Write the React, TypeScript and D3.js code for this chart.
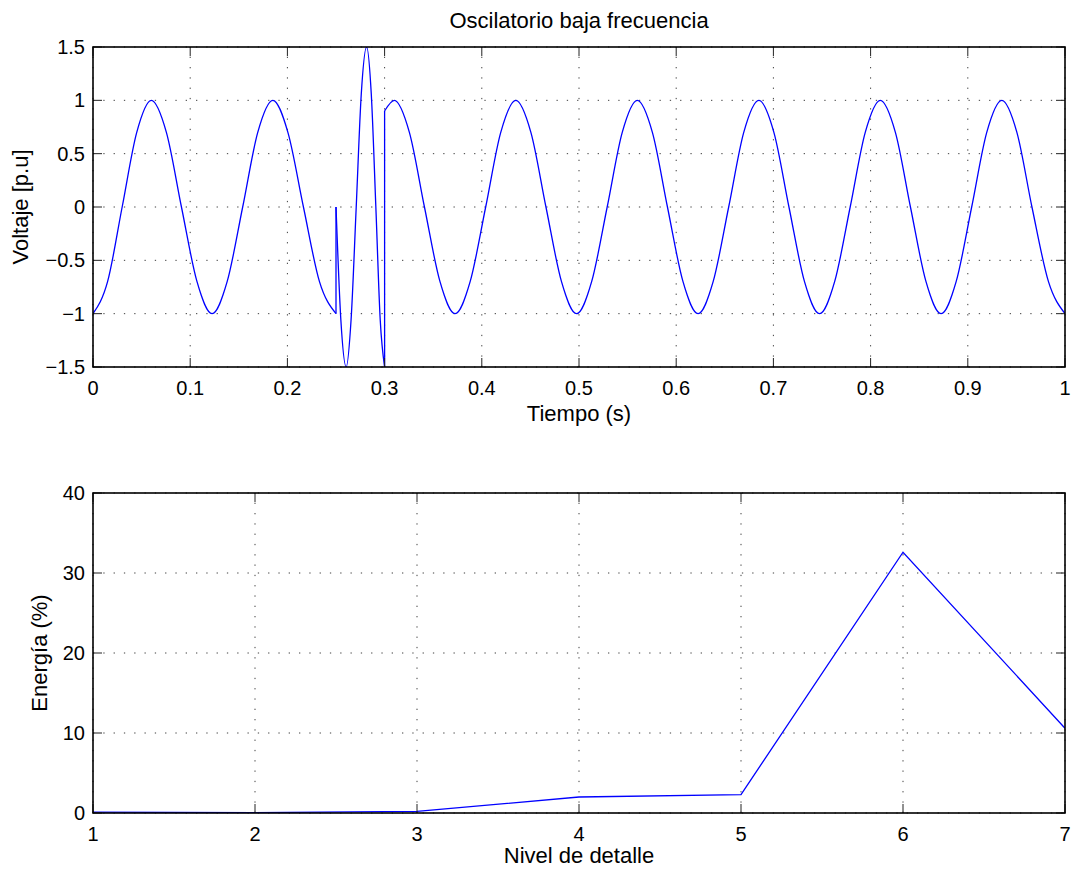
import React from "react";
import * as d3 from "d3";

const W = 1071;
const H = 870;
const FONT = "'Liberation Sans', Arial, Helvetica, sans-serif";
const LINE_BLUE = "#0000ff";

// Upper panel: 8 Hz oscillation, read at extrema, zero crossings and midpoints
const timeBefore = [
  0, 0.015, 0.03, 0.045, 0.06, 0.0755, 0.091, 0.107, 0.1225, 0.138, 0.154,
  0.1695, 0.185, 0.2005, 0.2165, 0.233, 0.25,
];
const voltBefore = [
  -1, -0.7, 0, 0.7, 1, 0.7, 0, -0.7, -1, -0.7, 0, 0.7, 1, 0.7, 0, -0.7, -1,
];

// Short high-frequency burst between 0.25 s and 0.30 s
const timeBurst = [
  0.25, 0.255, 0.2605, 0.2655, 0.2708, 0.276, 0.2815, 0.2863, 0.291, 0.2955,
  0.3,
];
const voltBurst = [0, -1.06, -1.5, -1.06, 0, 1.06, 1.5, 1.06, 0, -1.06, -1.5];

// Oscillation resumes after the burst
const timeAfter = [
  0.3, 0.31, 0.3255, 0.341, 0.357, 0.3725, 0.388, 0.404, 0.4195, 0.435, 0.4505,
  0.466, 0.482, 0.4975, 0.513, 0.529, 0.5445, 0.56, 0.5755, 0.591, 0.607,
  0.6225, 0.638, 0.654, 0.6695, 0.685, 0.7005, 0.716, 0.732, 0.7475, 0.763,
  0.779, 0.7945, 0.81, 0.8255, 0.841, 0.857, 0.8725, 0.888, 0.904, 0.9195,
  0.935, 0.9505, 0.966, 0.983, 1.0,
];
const voltAfter = [
  0.9, 1, 0.7, 0, -0.7, -1, -0.7, 0, 0.7, 1, 0.7, 0, -0.7, -1, -0.7, 0, 0.7, 1,
  0.7, 0, -0.7, -1, -0.7, 0, 0.7, 1, 0.7, 0, -0.7, -1, -0.7, 0, 0.7, 1, 0.7, 0,
  -0.7, -1, -0.7, 0, 0.7, 1, 0.7, 0, -0.7, -1,
];

// Lower panel: energy per detail level
const detailLevels = [1, 2, 3, 4, 5, 6, 7];
const energyPct = [0.1, 0.05, 0.2, 2.0, 2.3, 32.6, 10.6];

const timeTicks = [0, 0.1, 0.2, 0.3, 0.4, 0.5, 0.6, 0.7, 0.8, 0.9, 1];
const voltTicks = [-1.5, -1, -0.5, 0, 0.5, 1, 1.5];
const levelTicks = [1, 2, 3, 4, 5, 6, 7];
const energyTicks = [0, 10, 20, 30, 40];

const fmt = (v: number) => String(v).replace("-", "\u2212");

type Pt = [number, number];
const zipPts = (xs: number[], ys: number[]): Pt[] => xs.map((x, i) => [x, ys[i]]);

const LEFT = 93;
const RIGHT = 1065;
const TICK_LEN = 9;

interface PanelProps {
  top: number;
  bottom: number;
  x: d3.ScaleLinear<number, number>;
  y: d3.ScaleLinear<number, number>;
  xTicks: number[];
  yTicks: number[];
  xLabel: string;
  xLabelOffset: number;
  yLabel: string;
  yLabelX: number;
  title?: string;
  clipId: string;
  children?: React.ReactNode;
}

function Panel(p: PanelProps) {
  const { top, bottom, x, y } = p;
  return (
    <g>
      <defs>
        <clipPath id={p.clipId}>
          <rect x={LEFT} y={top} width={RIGHT - LEFT} height={bottom - top} />
        </clipPath>
      </defs>
      {/* dotted grid */}
      <g stroke="#000" strokeWidth={1} strokeDasharray="1.3 9" opacity={0.75}>
        {p.xTicks.map((t) => (
          <line key={"gx" + t} x1={x(t)} x2={x(t)} y1={bottom} y2={top} />
        ))}
        {p.yTicks.map((t) => (
          <line key={"gy" + t} x1={LEFT} x2={RIGHT} y1={y(t)} y2={y(t)} />
        ))}
      </g>
      {/* data */}
      <g clipPath={`url(#${p.clipId})`}>{p.children}</g>
      {/* ticks, inside on all four sides */}
      <g stroke="#222" strokeWidth={1}>
        {p.xTicks.map((t) => (
          <g key={"tx" + t}>
            <line x1={x(t)} x2={x(t)} y1={bottom} y2={bottom - TICK_LEN} />
            <line x1={x(t)} x2={x(t)} y1={top} y2={top + TICK_LEN} />
          </g>
        ))}
        {p.yTicks.map((t) => (
          <g key={"ty" + t}>
            <line x1={LEFT} x2={LEFT + TICK_LEN} y1={y(t)} y2={y(t)} />
            <line x1={RIGHT} x2={RIGHT - TICK_LEN} y1={y(t)} y2={y(t)} />
          </g>
        ))}
      </g>
      <rect
        x={LEFT}
        y={top}
        width={RIGHT - LEFT}
        height={bottom - top}
        fill="none"
        stroke="#000"
        strokeWidth={1.6}
      />
      {/* tick labels */}
      <g fontFamily={FONT} fontSize={20} fill="#000">
        {p.xTicks.map((t) => (
          <text key={"lx" + t} x={x(t)} y={bottom + 28} textAnchor="middle">
            {fmt(t)}
          </text>
        ))}
        {p.yTicks.map((t) => (
          <text
            key={"ly" + t}
            x={LEFT - 8}
            y={y(t)}
            textAnchor="end"
            dominantBaseline="central"
          >
            {fmt(t)}
          </text>
        ))}
      </g>
      <g fontFamily={FONT} fontSize={22} fill="#000">
        <text
          x={(LEFT + RIGHT) / 2}
          y={bottom + p.xLabelOffset}
          textAnchor="middle"
        >
          {p.xLabel}
        </text>
        <text
          transform={`translate(${p.yLabelX},${(top + bottom) / 2}) rotate(-90)`}
          textAnchor="middle"
        >
          {p.yLabel}
        </text>
        {p.title && (
          <text x={(LEFT + RIGHT) / 2} y={top - 19} textAnchor="middle">
            {p.title}
          </text>
        )}
      </g>
    </g>
  );
}

export default function App() {
  const xTime = d3.scaleLinear().domain([0, 1]).range([LEFT, RIGHT]);
  const yVolt = d3.scaleLinear().domain([-1.5, 1.5]).range([367, 47]);
  const xLevel = d3.scaleLinear().domain([1, 7]).range([LEFT, RIGHT]);
  const yEnergy = d3.scaleLinear().domain([0, 40]).range([813, 493]);

  const smooth = d3
    .line<Pt>()
    .x((d) => xTime(d[0]))
    .y((d) => yVolt(d[1]))
    .curve(d3.curveMonotoneX);
  const straight = d3
    .line<Pt>()
    .x((d) => xTime(d[0]))
    .y((d) => yVolt(d[1]));

  const segBefore = zipPts(timeBefore, voltBefore);
  const segBurst = zipPts(timeBurst, voltBurst);
  const segAfter = zipPts(timeAfter, voltAfter);
  // vertical jumps where the burst starts and ends
  const jumps: Pt[][] = [
    [segBefore[segBefore.length - 1], segBurst[0]],
    [segBurst[segBurst.length - 1], segAfter[0]],
  ];

  const energyLine = d3
    .line<number>()
    .x((_, i) => xLevel(detailLevels[i]))
    .y((d) => yEnergy(d));

  return (
    <div style={{ position: "absolute", left: 0, top: 0 }}>
      <svg width={W} height={H} style={{ display: "block", background: "#fff" }}>
        <rect width={W} height={H} fill="#fff" />
        <Panel
          top={47}
          bottom={367}
          x={xTime}
          y={yVolt}
          xTicks={timeTicks}
          yTicks={voltTicks}
          xLabel="Tiempo (s)"
          xLabelOffset={54}
          yLabel="Voltaje [p.u]"
          yLabelX={28}
          title="Oscilatorio baja frecuencia"
          clipId="clip-top"
        >
          <g fill="none" stroke={LINE_BLUE} strokeWidth={1.3}>
            <path d={smooth(segBefore) ?? ""} />
            <path d={smooth(segBurst) ?? ""} />
            <path d={smooth(segAfter) ?? ""} />
            {jumps.map((j, i) => (
              <path key={i} d={straight(j) ?? ""} />
            ))}
          </g>
        </Panel>
        <Panel
          top={493}
          bottom={813}
          x={xLevel}
          y={yEnergy}
          xTicks={levelTicks}
          yTicks={energyTicks}
          xLabel="Nivel de detalle"
          xLabelOffset={50}
          yLabel="Energía (%)"
          yLabelX={47}
          clipId="clip-bottom"
        >
          <path
            d={energyLine(energyPct) ?? ""}
            fill="none"
            stroke={LINE_BLUE}
            strokeWidth={1.3}
          />
        </Panel>
      </svg>
    </div>
  );
}
